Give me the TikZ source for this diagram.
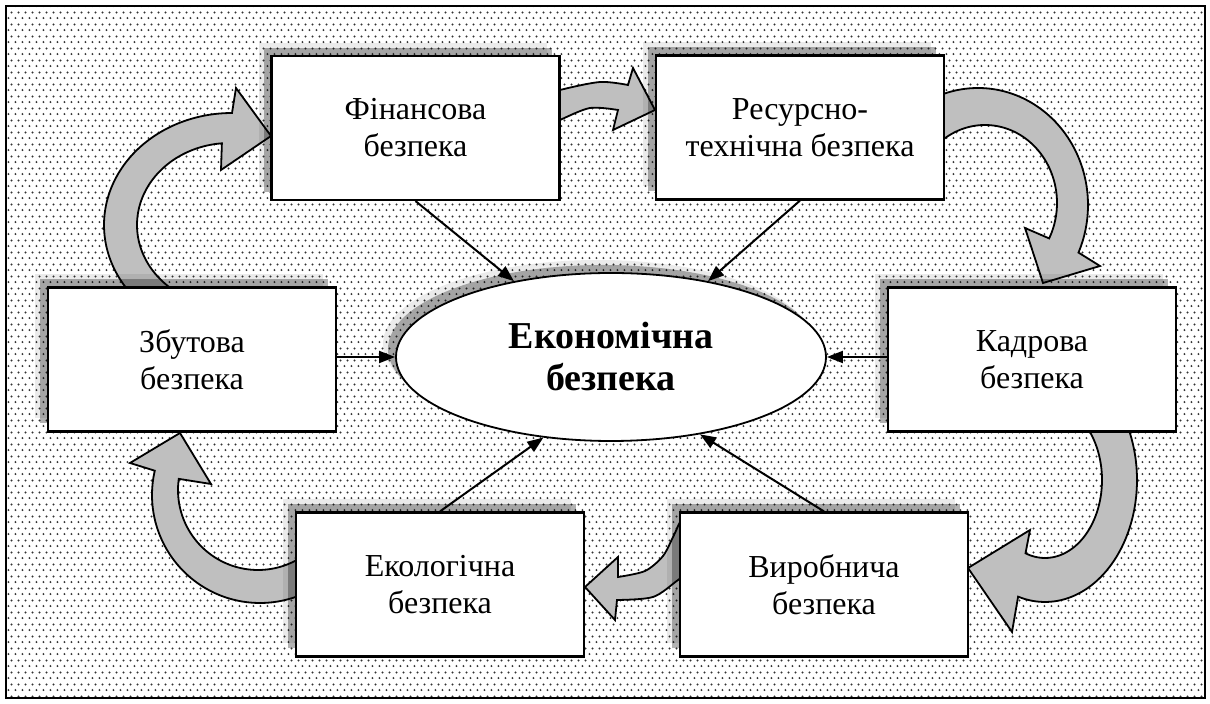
\documentclass[tikz,border=0pt]{standalone}
\usepackage{fontspec}
\setmainfont{Liberation Serif}
\usetikzlibrary{shapes.geometric,shadows,arrows.meta,patterns.meta}
\pgfdeclarelayer{pat}
\pgfdeclarelayer{bg}
\pgfsetlayers{pat,bg,main}
\tikzdeclarepattern{
  name=mydots,
  type=colored,
  bounding box={(0pt,0pt) and (3.25pt,5.8pt)},
  tile size={(3.25pt,5.8pt)},
  code={
    \fill[black!80] (0.8pt,1pt) circle (0.56pt);
    \fill[black!80] (2.425pt,3.9pt) circle (0.56pt);
  }
}
\tikzset{
  sh/.style={drop shadow={shadow xshift=-6.5pt, shadow yshift=6.5pt, fill=black, opacity=0.08},
             drop shadow={shadow xshift=-4pt, shadow yshift=4pt, fill=black, opacity=0.3}},
  boxnode/.style={draw, line width=1.1pt, fill=white, minimum width=144pt, minimum height=72pt,
     inner sep=0pt, align=center, font=\fontsize{16}{18.5}\selectfont, sh},
  ellnode/.style={ellipse, draw, line width=0.9pt, fill=white, minimum width=215pt, minimum height=84pt,
     inner sep=0pt, align=center, font=\fontsize{19}{21}\selectfont\bfseries, sh},
  conn/.style={line width=1pt, -{Triangle[length=8pt,width=6pt]}},
  carrow/.style={fill=black!25, draw=black, line width=0.9pt, line join=miter}
}
\begin{document}
\begin{tikzpicture}[x=0.5pt,y=-0.5pt]
\useasboundingbox (0,0) rectangle (1210,704);
\begin{pgfonlayer}{pat}
\fill[white] (0,0) rectangle (1210,704);
\draw[pattern=mydots, line width=1pt] (5.5,6.5) rectangle (1204.5,698.5);
\end{pgfonlayer}

\node[boxnode] (fin)  at (415.5,128)  {Фінансова\\безпека};
\node[boxnode] (res)  at (800,127.5)  {Ресурсно-\\технічна безпека};
\node[boxnode] (zbut) at (192,359.5)  {Збутова\\безпека};
\node[boxnode] (kadr) at (1032,359.5) {Кадрова\\безпека};
\node[boxnode] (ekol) at (440,584.5)  {Екологічна\\безпека};
\node[boxnode] (vyr)  at (824,584.5)  {Виробнича\\безпека};
\node[ellnode] (eco)  at (611,357)    {Економічна\\безпека};

\begin{pgfonlayer}{bg}
% straight connectors
\draw[conn] (fin.south) -- (eco.142.9);
\draw[conn] (res.south) -- (eco.38.8);
\draw[conn] (zbut.east |- eco.west) -- (eco.west);
\draw[conn] (kadr.west |- eco.east) -- (eco.east);
\draw[conn] (ekol.north) -- (eco.230.3);
\draw[conn] (vyr.north) -- (eco.319.8);
% curved block arrows
% A: zbut -> fin
\draw[carrow] plot[domain=138:270, samples=40, smooth] ({232+128*cos(\x)}, {225+112*sin(\x)})
  -- (236,88) -- (271,136) -- (221,170)
  -- plot[domain=265:114, samples=40, smooth] ({230+93*cos(\x)}, {225+82*sin(\x)}) -- cycle;
% B: fin -> res
\draw[carrow] plot[smooth] coordinates {(545,96) (560,90) (600,82) (628,85)}
  -- (633,68) -- (655,110) -- (613,130) -- (618,110)
  -- plot[smooth] coordinates {(618,110) (590,108) (560,120) (545,128)} -- cycle;
% C: res -> kadr
\draw[carrow] plot[domain=-116:24, samples=40, smooth] ({978+110*cos(\x)}, {205+117*sin(\x)})
  -- (1100,266) -- (1043,283) -- (1025,228)
  -- plot[domain=27:-135, samples=40, smooth] ({985+72*cos(\x)}, {203+78*sin(\x)}) -- cycle;
% D: kadr -> vyr
\draw[carrow] plot[domain=-70:107, samples=40, smooth] ({1045+92*cos(\x)}, {480+122*sin(\x)})
  -- (1012,632) -- (968,568) -- (1030,530)
  -- plot[domain=110:-75, samples=40, smooth] ({1045+57*cos(\x)}, {480+78*sin(\x)}) -- cycle;
% E: vyr -> ekol
\draw[carrow] plot[smooth] coordinates {(720,545) (700,563) (678,580) (653,597) (617,600)}
  -- (615,620) -- (585,587) -- (618,557)
  -- plot[smooth] coordinates {(618,577) (645,571) (663,556) (674,535) (683,518) (700,514) (720,516)} -- cycle;
% F: ekol -> zbut
\draw[carrow] plot[domain=60:193, samples=40, smooth] ({260+108*cos(\x)}, {495+108*sin(\x)})
  -- (130,463) -- (180,433) -- (211,484)
  -- plot[domain=188:50, samples=40, smooth] ({258+80*cos(\x)}, {490+80*sin(\x)}) -- cycle;
\end{pgfonlayer}
\end{tikzpicture}
\end{document}
